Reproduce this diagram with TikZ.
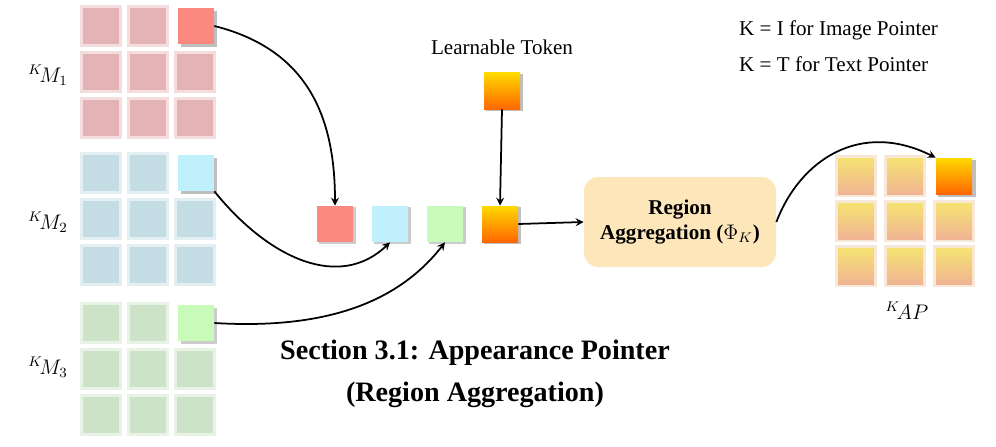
\documentclass[tikz,border=0pt]{standalone}
\usepackage{fontspec}
\setmainfont{Liberation Serif}
\begin{document}
\begin{tikzpicture}[x=0.02cm,y=-0.02cm,
  cell/.style={minimum size=36*0.02cm, inner sep=0, draw=none},
  arr/.style={-stealth, line width=1pt},
  lab/.style={font=\large}]
\useasboundingbox (0,0) rectangle (996,446);
\definecolor{pr}{HTML}{E4B3B6}\definecolor{pb}{HTML}{C4DCE3}\definecolor{pg}{HTML}{CCE3C7}
\definecolor{br}{HTML}{FA8A80}\definecolor{bb}{HTML}{BFF0FC}\definecolor{bg}{HTML}{C8FBB9}
\definecolor{tan}{HTML}{E9BE8E}\definecolor{box}{HTML}{FCE6BA}
% faded grids
\foreach \gy/\c/\g in {8/pr/1, 155/pb/2, 305/pg/3}{
  \foreach \i in {0,1,2}{\foreach \j in {0,1,2}{
    \pgfmathsetmacro{\xx}{83+47*\i}\pgfmathsetmacro{\yy}{\gy+46*\j}
    \ifnum\i=2 \ifnum\j=0 \else
      \fill[\c,opacity=0.45] (\xx-3,\yy-3) rectangle (\xx+39,\yy+39);
      \fill[\c] (\xx,\yy) rectangle (\xx+36,\yy+36);
    \fi\else
      \fill[\c,opacity=0.45] (\xx-3,\yy-3) rectangle (\xx+39,\yy+39);
      \fill[\c] (\xx,\yy) rectangle (\xx+36,\yy+36);
    \fi}}}
% bright corner squares
\fill[gray!50] (181,11) rectangle (217,47);
\node[cell,fill=br] (m1) at (196,26) {};
\fill[gray!50] (181,158) rectangle (217,194);
\node[cell,fill=bb] (m2) at (196,173) {};
\fill[gray!40] (181,308) rectangle (217,344);
\node[cell,fill=bg] (m3) at (196,323) {};
\node[lab] (l1) at (48,75) {$^{K}\!M_1$};
\node[lab] (l2) at (48,222) {$^{K}\!M_2$};
\node[lab] (l3) at (48,367) {$^{K}\!M_3$};
% middle row
\fill[gray!40] (319,207) rectangle (356,244);
\node[cell,fill=br] (r) at (335,224) {};
\fill[gray!40] (374,207) rectangle (411,244);
\node[cell,fill=bb] (c) at (390,224) {};
\fill[gray!40] (429,207) rectangle (466,244);
\node[cell,fill=bg] (g) at (445,224) {};
\fill[gray!50] (484,207) rectangle (521,244);
\node[cell,top color=yellow!70!orange,bottom color=orange!80!red] (o) at (500,224) {};
\fill[gray!50] (486,74) rectangle (523,111);
\node[cell,top color=yellow!70!orange,bottom color=orange!80!red] (t) at (502,91) {};
\node[lab] (tl) at (502,47) {Learnable Token};
% box
\node[fill=box,rounded corners=8pt,minimum width=192*0.02cm,minimum height=90*0.02cm,
  align=center,font=\large\bfseries] (ra) at (680,222) {Region\\Aggregation ($\Phi_K$)};
% AP grid
\foreach \i in {0,1,2}{\foreach \j in {0,1,2}{
  \pgfmathsetmacro{\xx}{838+49*\i}\pgfmathsetmacro{\yy}{158+45*\j}
  \ifnum\i=2 \ifnum\j=0 \else
    \fill[tan,opacity=0.35] (\xx-3,\yy-3) rectangle (\xx+39,\yy+39);
    \shade[top color=tan!55!yellow!80!white,bottom color=tan!85!red!80!white] (\xx,\yy) rectangle (\xx+36,\yy+36);
  \fi\else
    \fill[tan,opacity=0.35] (\xx-3,\yy-3) rectangle (\xx+39,\yy+39);
    \shade[top color=tan!55!yellow!80!white,bottom color=tan!85!red!80!white] (\xx,\yy) rectangle (\xx+36,\yy+36);
  \fi}}
\fill[gray!50] (938,160) rectangle (976,197);
\node[cell,top color=yellow!70!orange,bottom color=orange!80!red] (ap) at (954,176) {};
\node[lab] (apl) at (907,311) {$^{K}\!AP$};
\node[lab,anchor=west] (k1) at (733,30) {K = I for Image Pointer};
\node[lab,anchor=west] (k2) at (733,64) {K = T for Text Pointer};
\node[font=\fontsize{16}{24}\selectfont\bfseries,align=center] (sec) at (475,374) {Section 3.1: Appearance Pointer\\(Region Aggregation)};
% arrows
\draw[arr] (m1.east) .. controls (310,50) and (335,120) .. (r.north);
\draw[arr] (m2.south east) .. controls (270,260) and (340,290) .. (c.south);
\draw[arr] (m3.east) .. controls (330,330) and (400,300) .. (g.south);
\draw[arr] (t.south) -- (o.north);
\draw[arr] (o.east) -- (ra.west);
\draw[arr] (ra.east) .. controls (800,160) and (860,120) .. (ap.north west);
\end{tikzpicture}
\end{document}
